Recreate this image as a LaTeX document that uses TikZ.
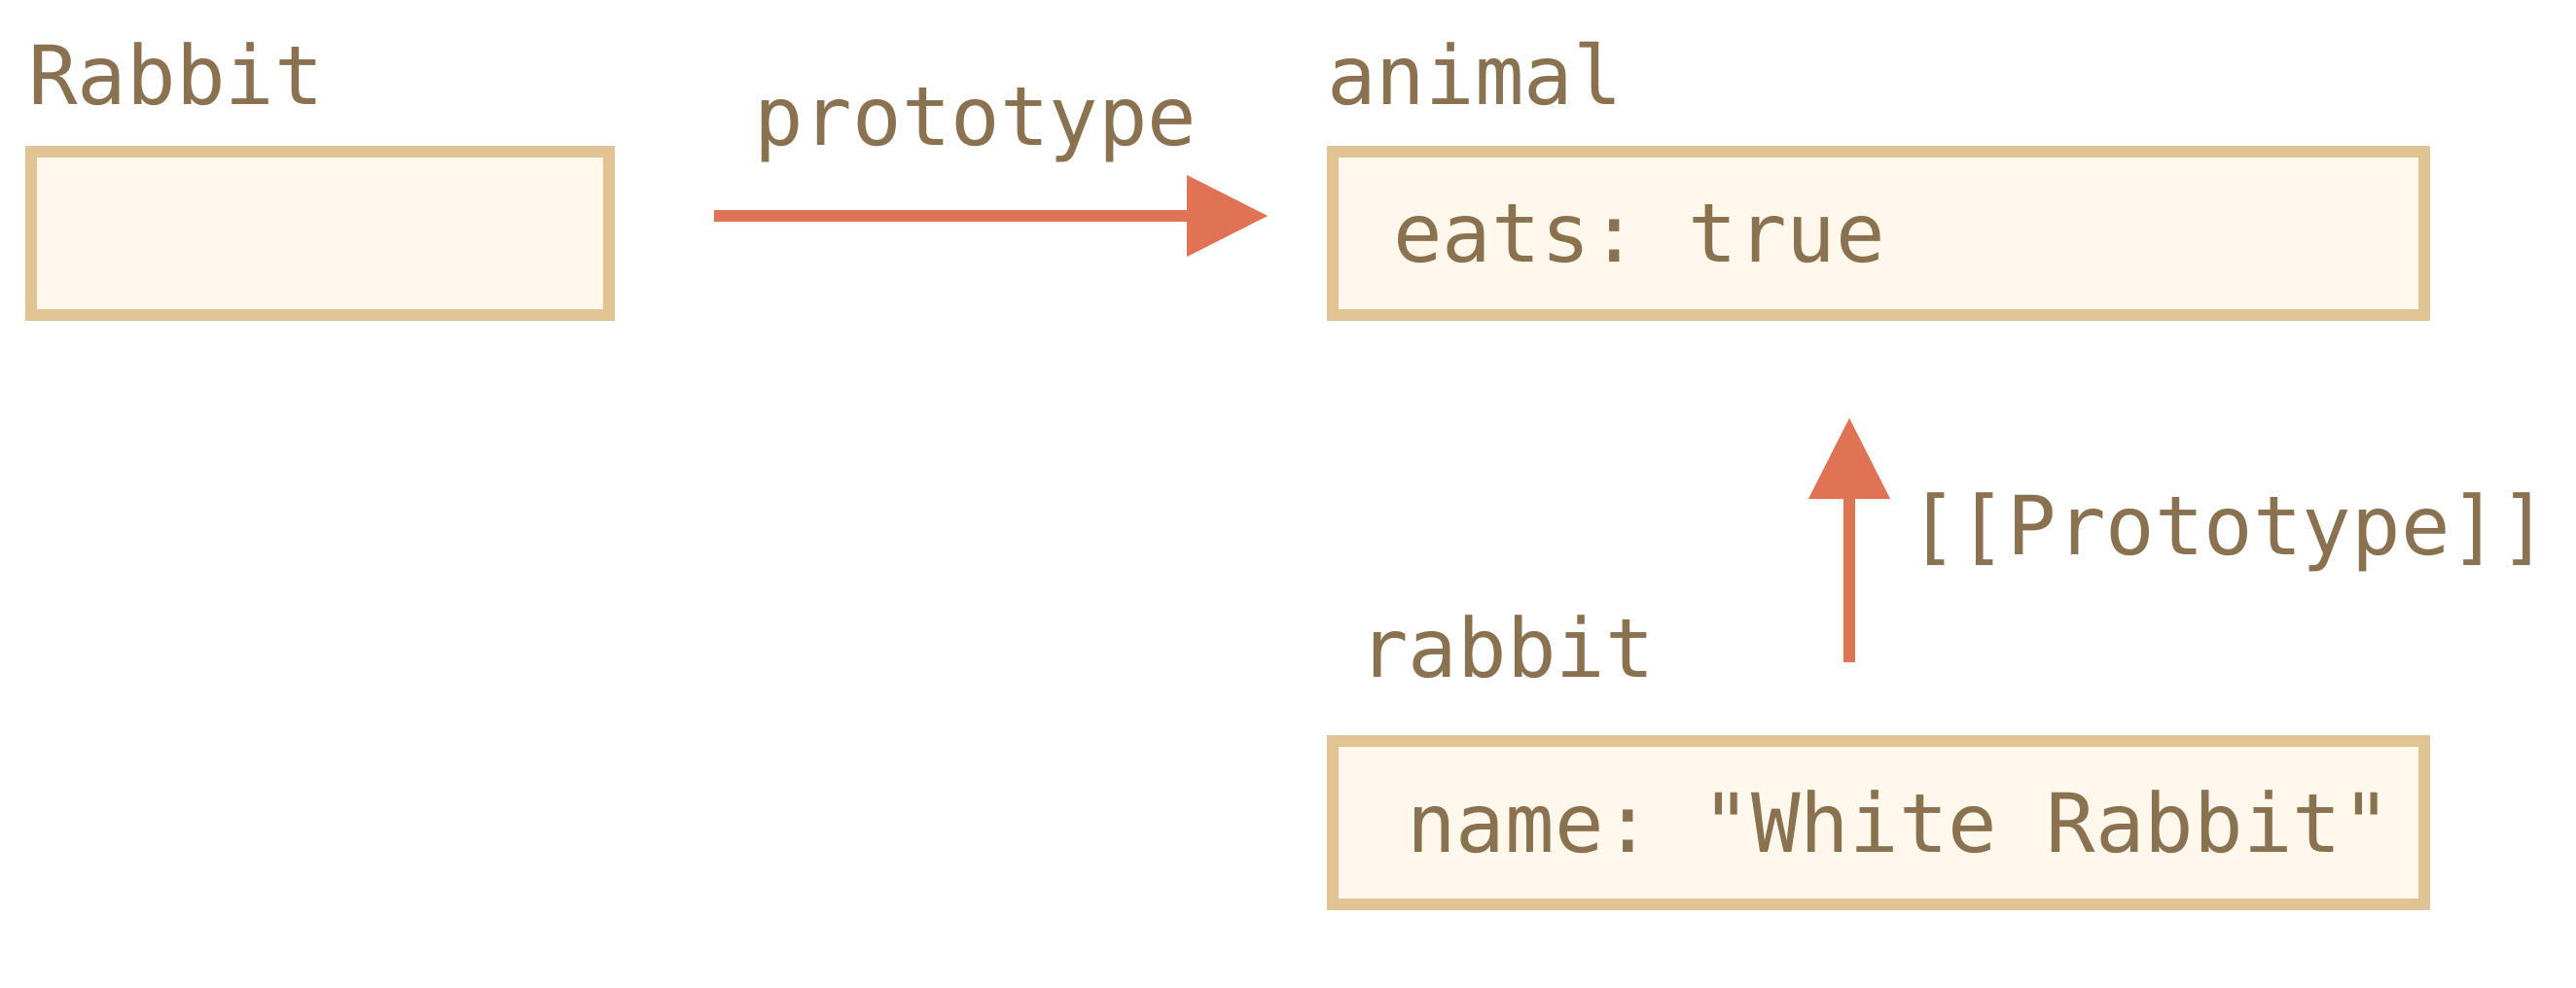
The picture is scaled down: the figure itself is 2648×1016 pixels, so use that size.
\documentclass[tikz,border=0pt]{standalone}
\usepackage{fontspec}
\setmonofont{DejaVu Sans Mono}
\usepackage{tikz}
\usetikzlibrary{arrows.meta}

\definecolor{boxline}{RGB}{226,196,148}
\definecolor{boxfill}{RGB}{253,247,236}
\definecolor{labeltext}{RGB}{138,114,80}
\definecolor{linkred}{RGB}{224,115,84}

\tikzset{
  objbox/.style={draw=boxline,fill=boxfill,line width=6pt,inner sep=0pt,minimum height=84pt},
  codetext/.style={inner sep=0pt,anchor=base west,text=labeltext,font=\ttfamily\fontsize{42}{50}\selectfont},
  protolink/.style={draw=linkred,line width=6pt,-{Triangle[length=41.5pt,width=42pt,line width=0pt]}}
}

\begin{document}
\begin{tikzpicture}[x=0.5pt,y=-0.5pt]
  \useasboundingbox (0,0) rectangle (2648,1016);

  \node[objbox,minimum width=297pt] (Rabbitbox) at (329,240) {};
  \node[objbox,minimum width=561pt] (animalbox) at (1931,240) {};
  \node[objbox,minimum width=561pt] (rabbitbox) at (1931,846) {};

  \node[codetext] (Rabbitlabel) at (29,108) {Rabbit};
  \node[codetext] (animallabel) at (1364,108) {animal};
  \node[codetext] (rabbitlabel) at (1397,696) {rabbit};

  \node[codetext] (eats) at (1432,270) {eats: true};
  \node[codetext] (name) at (1446,876) {name: "White Rabbit"};

  \coordinate (protofrom) at (734,222);
  \coordinate (prototo) at (1303,222);
  \coordinate (innerfrom) at (1901,681);
  \coordinate (innerto) at (1901,430);

  \draw[protolink] (protofrom) -- (prototo);
  \draw[protolink] (innerfrom) -- (innerto);

  \node[codetext] (protolabel) at (775,150) {prototype};
  \node[codetext] (innerlabel) at (1962,570) {[[Prototype]]};
\end{tikzpicture}
\end{document}
